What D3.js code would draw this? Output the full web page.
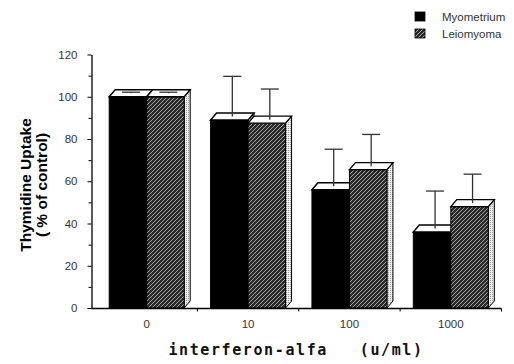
<!DOCTYPE html>
<html>
<head>
<meta charset="utf-8">
<script src="https://cdn.jsdelivr.net/npm/d3@7"></script>
<style>
  body { margin: 0; background: #fff; }
  svg { display: block; }
</style>
</head>
<body>
<svg id="chart" width="514" height="364"></svg>
<script>
// values
categories = ['0', '10', '100', '1000']
series = ['Myometrium', 'Leiomyoma']
myometrium = [100, 89, 56, 36]
leiomyoma = [100, 87.5, 65.5, 48]
myometriumSd = [0.5, 19, 17.5, 17.7]
leiomyomaSd = [0.5, 14.5, 15, 13.7]
yTicks = [0, 20, 40, 60, 80, 100, 120]
yMinor = [10, 30, 50, 70, 90, 110]

var svg = d3.select("#chart")
var dx = 6, dy = 7
var barW = 37.5

var x = d3.scaleBand().domain(categories).range([96, 501.5])
var y = d3.scaleLinear().domain([0, 120]).range([308, 54.5])

// hatch pattern: dark with thin light diagonals
var defs = svg.append("defs")
var pat = defs.append("pattern")
    .attr("id", "hatch")
    .attr("patternUnits", "userSpaceOnUse")
    .attr("width", 4).attr("height", 4)
pat.append("rect").attr("width", 4).attr("height", 4).attr("fill", "#2a2a2a")
pat.append("path").attr("d", "M-1,1 L1,-1 M0,4 L4,0 M3,5 L5,3")
    .attr("stroke", "#b0b0b0").attr("stroke-width", 0.9)

var dots = defs.append("pattern")
    .attr("id", "dots")
    .attr("patternUnits", "userSpaceOnUse")
    .attr("width", 2).attr("height", 2)
dots.append("rect").attr("width", 2).attr("height", 2).attr("fill", "#eeeeee")
dots.append("rect").attr("width", 1).attr("height", 1).attr("fill", "#9a9a9a")

// bars
var rows = categories.map((c, i) => [
    {cat: c, k: 0, v: myometrium[i], sd: myometriumSd[i]},
    {cat: c, k: 1, v: leiomyoma[i], sd: leiomyomaSd[i]}
]).flat()

function drawBar(g, d) {
    var x0 = x(d.cat) + x.bandwidth() / 2 - barW + d.k * barW
    var x1 = x0 + barW
    var yt = y(d.v), yb = y(0)
    // side face
    g.append("path")
        .attr("d", `M${x1},${yb} L${x1 + dx},${yb - dy} L${x1 + dx},${yt - dy} L${x1},${yt} Z`)
        .attr("fill", "url(#dots)").attr("stroke", "#000").attr("stroke-width", 1)
    // front face
    g.append("rect")
        .attr("x", x0).attr("y", yt).attr("width", barW).attr("height", yb - yt)
        .attr("fill", d.k == 0 ? "#000" : "url(#hatch)")
        .attr("stroke", "#000").attr("stroke-width", 1)
    // top face
    g.append("path")
        .attr("d", `M${x0},${yt} L${x0 + dx},${yt - dy} L${x1 + dx},${yt - dy} L${x1},${yt} Z`)
        .attr("fill", "#fff").attr("stroke", "#000").attr("stroke-width", 1.4)
    // error bar from the middle of the top face
    var ex = (x0 + x1) / 2 + dx / 2
    var e0 = yt - dy / 2
    var e1 = y(d.v + d.sd) - dy / 2
    g.append("line").attr("x1", ex).attr("x2", ex).attr("y1", e0).attr("y2", e1)
        .attr("stroke", "#333").attr("stroke-width", 1.3)
    g.append("line").attr("x1", ex - 9).attr("x2", ex + 9).attr("y1", e1).attr("y2", e1)
        .attr("stroke", "#333").attr("stroke-width", 1.3)
}

var bars = svg.append("g")
rows.forEach(d => drawBar(bars, d))

// y axis
var yAxis = svg.append("g")
    .attr("transform", "translate(91.5,0)")
    .call(d3.axisLeft(y).tickValues(yTicks).tickSize(4).tickPadding(10).tickSizeOuter(0))
yAxis.selectAll("text")
    .attr("font-family", "Liberation Sans, Arial, sans-serif")
    .attr("font-size", 11.5).attr("fill", "#333")
yAxis.select(".domain").attr("stroke", "#000").attr("stroke-width", 1.3)
svg.append("g")
    .attr("transform", "translate(91.5,0)")
    .call(d3.axisLeft(y).tickValues(yMinor).tickSize(3).tickFormat(""))
    .select(".domain").remove()

// x axis
var xAxis = svg.append("g")
    .attr("transform", `translate(0,${y(0) + 0.5})`)
xAxis.append("line")
    .attr("x1", 91.5).attr("x2", x.range()[1])
    .attr("stroke", "#000").attr("stroke-width", 1.3)
xAxis.selectAll(".sep")
    .data(categories)
    .enter().append("line")
    .attr("x1", d => x(d) + x.bandwidth()).attr("x2", d => x(d) + x.bandwidth())
    .attr("y1", 0).attr("y2", 3)
    .attr("stroke", "#000")
xAxis.selectAll(".lab")
    .data(categories)
    .enter().append("text")
    .attr("x", d => x(d) + x.bandwidth() / 2)
    .attr("y", 19)
    .attr("text-anchor", "middle")
    .attr("font-family", "Liberation Sans, Arial, sans-serif")
    .attr("font-size", 11.5).attr("fill", "#333")
    .text(d => d)

// axis titles
svg.append("text")
    .attr("transform", "translate(296,355)")
    .attr("text-anchor", "middle")
    .attr("font-family", "DejaVu Sans Mono, monospace")
    .attr("font-weight", "bold")
    .attr("font-size", 15).attr("letter-spacing", 1.6)
    .attr("fill", "#111")
    .attr("xml:space", "preserve")
    .text("interferon-alfa   (u/ml)")

var yt = svg.append("text")
    .attr("transform", "translate(31,185) rotate(-90)")
    .attr("text-anchor", "middle")
    .attr("font-family", "Liberation Sans, Arial, sans-serif")
    .attr("font-weight", "bold")
    .attr("font-size", 15.5).attr("fill", "#000")
yt.append("tspan").attr("x", 0).attr("dy", 0).text("Thymidine Uptake")
yt.append("tspan").attr("x", 0).attr("dy", 16).text("( % of control)")

// legend
var legend = svg.append("g").attr("transform", "translate(415,12)")
legend.selectAll("g")
    .data(series)
    .enter().append("g")
    .attr("transform", (d, i) => `translate(0,${i * 17})`)
    .each(function(d, i) {
        var g = d3.select(this)
        g.append("rect").attr("width", 10).attr("height", 9)
            .attr("fill", i == 0 ? "#000" : "url(#hatch)")
            .attr("stroke", "#000").attr("stroke-width", 0.8)
        g.append("text").attr("x", 27).attr("y", 8.5)
            .attr("font-family", "Liberation Sans, Arial, sans-serif")
            .attr("font-size", 11.5).attr("fill", "#333")
            .text(d)
    })
</script>
</body>
</html>
